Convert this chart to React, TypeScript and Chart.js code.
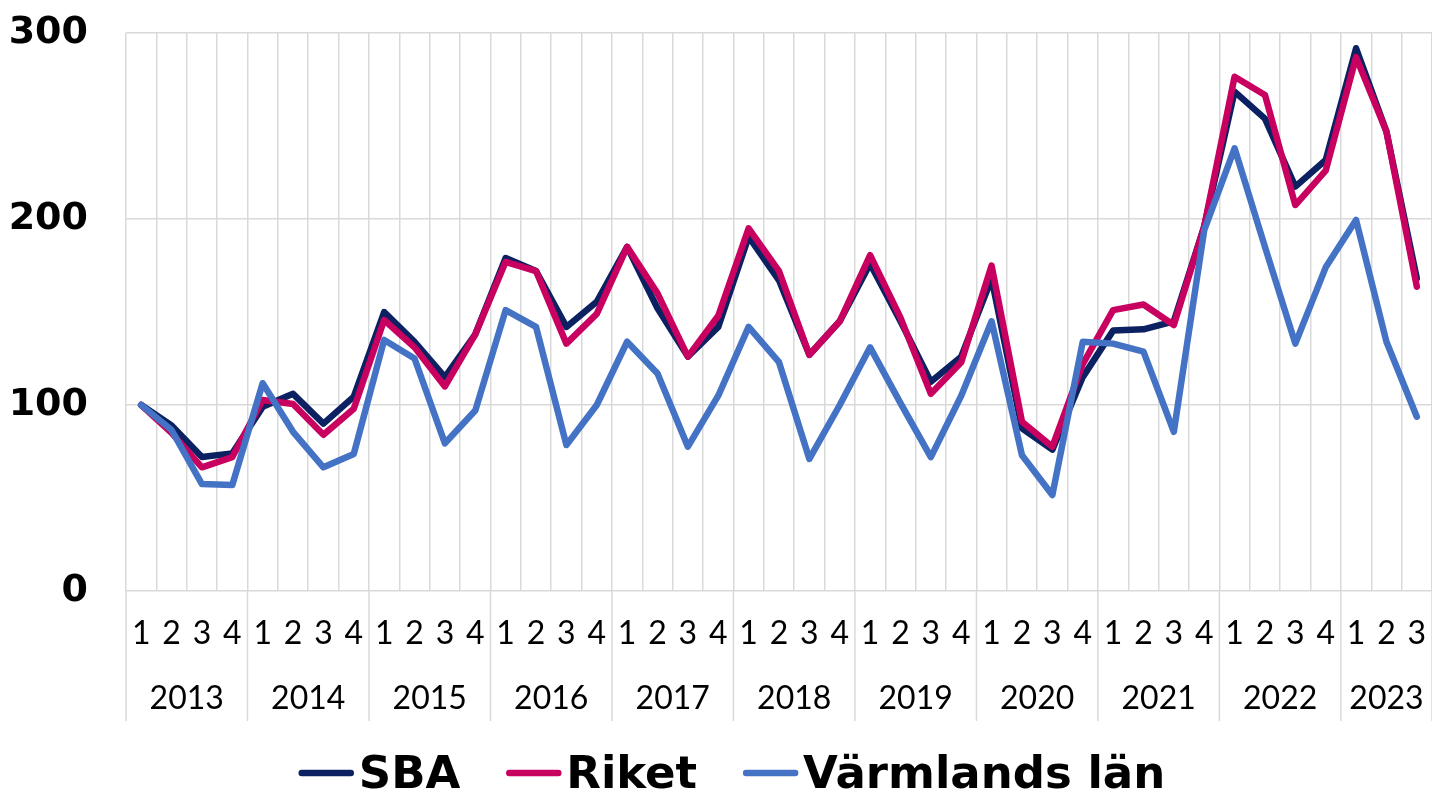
import React, { useEffect, useRef } from 'react';
import { Chart, registerables } from 'chart.js';

Chart.register(...registerables);

// ---- data ----
const years = ['2013', '2014', '2015', '2016', '2017', '2018', '2019', '2020', '2021', '2022', '2023'];
const quartersPerYear = [4, 4, 4, 4, 4, 4, 4, 4, 4, 4, 3];
const quarterLabels = [
  '1', '2', '3', '4', '1', '2', '3', '4', '1', '2', '3', '4', '1', '2', '3', '4',
  '1', '2', '3', '4', '1', '2', '3', '4', '1', '2', '3', '4', '1', '2', '3', '4',
  '1', '2', '3', '4', '1', '2', '3', '4', '1', '2', '3',
];

const sba = [
  100, 89, 72, 74,
  99, 106, 90, 104.5,
  150, 134, 115, 138,
  179, 172, 142, 155.5,
  185, 152, 126, 142,
  190.5, 167, 127, 145,
  176, 145, 112.5, 126,
  168, 87.5, 76, 115,
  140, 140.7, 145, 196,
  268.5, 254, 217.4, 231.7,
  291.8, 247, 168,
];

const riket = [
  100, 85, 66.5, 72,
  102.7, 100.5, 84, 98,
  145.7, 131, 110, 138,
  177, 172, 133, 149,
  185, 160, 126, 148,
  195, 172, 127, 145,
  180.6, 147, 106, 123,
  175, 91, 77.6, 122,
  151, 154, 143, 196,
  276.5, 266.7, 207.5, 226,
  287, 247, 163.6,
];

const varmland = [
  100, 86.5, 57.5, 57,
  111.7, 85.6, 66.5, 73.7,
  135, 125, 79.4, 97,
  151, 142, 78.5, 100,
  134, 117, 77.6, 105,
  142, 123, 71, 100,
  131, 101, 72, 105,
  145, 73, 51.6, 134,
  133, 128.7, 85.6, 194,
  238, 185, 133, 174,
  199.5, 134, 93.7,
];

const seriesNames = ['SBA', 'Riket', 'Värmlands län'];
const seriesColors = ['#0B2161', '#C8005F', '#4472C4'];
const yMin = 0;
const yMax = 300;
const yStep = 100;

// ---- styles ----
const GRID = '#d9d9d9';
const W = 1432;
const H = 794;

const yearAxisPlugin = {
  id: 'yearAxis',
  afterDraw(chart: any) {
    const x = chart.scales.x;
    const area = chart.chartArea;
    const ctx = chart.ctx;
    const half = (x.getPixelForValue(1) - x.getPixelForValue(0)) / 2;
    ctx.save();
    ctx.strokeStyle = GRID;
    ctx.lineWidth = 1.5;
    ctx.fillStyle = '#000';
    ctx.font = '32px Lato';
    ctx.textAlign = 'center';
    ctx.textBaseline = 'middle';
    let start = 0;
    let right = 0;
    years.forEach((yr, k) => {
      const n = quartersPerYear[k];
      const left = x.getPixelForValue(start) - half;
      right = x.getPixelForValue(start + n - 1) + half;
      ctx.beginPath();
      ctx.moveTo(left, area.bottom);
      ctx.lineTo(left, area.bottom + 130);
      ctx.stroke();
      ctx.fillText(yr, (left + right) / 2, area.bottom + 108);
      start += n;
    });
    ctx.beginPath();
    ctx.moveTo(right, area.bottom);
    ctx.lineTo(right, area.bottom + 130);
    ctx.stroke();
    ctx.restore();
  },
};

const legendPlugin = {
  id: 'customLegend',
  afterDraw(chart: any) {
    const ctx = chart.ctx;
    const ds = chart.data.datasets;
    const swatch = 55;
    const gapText = 5;
    const gapItem = 46;
    ctx.save();
    ctx.font = 'bold 45px "DejaVu Sans"';
    const widths = ds.map((d: any) => ctx.measureText(d.label).width);
    const total = widths.reduce((a: number, w: number) => a + swatch + gapText + w, 0) + gapItem * (ds.length - 1);
    let xPos = 732 - total / 2;
    const baseY = 788;
    const lineY = 773;
    ds.forEach((d: any, i: number) => {
      ctx.strokeStyle = d.borderColor;
      ctx.lineWidth = 6.5;
      ctx.lineCap = 'round';
      ctx.beginPath();
      ctx.moveTo(xPos + 3, lineY);
      ctx.lineTo(xPos + swatch - 3, lineY);
      ctx.stroke();
      ctx.fillStyle = '#000';
      ctx.textAlign = 'left';
      ctx.textBaseline = 'alphabetic';
      ctx.fillText(d.label, xPos + swatch + gapText, baseY);
      xPos += swatch + gapText + widths[i] + gapItem;
    });
    ctx.restore();
  },
};

export default function App() {
  const ref = useRef<HTMLCanvasElement | null>(null);

  useEffect(() => {
    document.body.style.margin = '0';
    const canvas = ref.current;
    if (!canvas) return;
    const seriesData = [sba, riket, varmland];
    const chart = new Chart(canvas, {
      type: 'line',
      data: {
        labels: quarterLabels,
        datasets: seriesData.map((d, i) => ({
          label: seriesNames[i],
          data: d,
          borderColor: seriesColors[i],
          backgroundColor: seriesColors[i],
          borderWidth: 6.5,
          pointRadius: 0,
          tension: 0,
          borderCapStyle: 'round',
          borderJoinStyle: 'round',
          fill: false,
          order: 3 - i,
        })),
      },
      options: {
        animation: false,
        responsive: false,
        devicePixelRatio: 1,
        layout: { padding: { left: 0, right: 0, top: 33, bottom: 63 } },
        plugins: {
          legend: { display: false },
          tooltip: { enabled: false },
        },
        scales: {
          x: {
            offset: true,
            grid: { offset: true, color: GRID, lineWidth: 1.5, drawTicks: false },
            border: { display: false },
            ticks: {
              autoSkip: false,
              maxRotation: 0,
              color: '#000',
              font: { family: 'Lato', size: 32 },
              padding: 23,
            },
            afterFit(scale: any) {
              scale.height = 140;
              scale.paddingLeft = 0;
              scale.paddingRight = 0;
            },
          },
          y: {
            min: yMin,
            max: yMax,
            grid: { color: GRID, lineWidth: 1.5, drawTicks: false },
            border: { display: false },
            ticks: {
              stepSize: yStep,
              color: '#000',
              font: { family: 'DejaVu Sans', size: 38, weight: 'bold' },
              padding: 38,
            },
            afterFit(scale: any) {
              scale.width = 126;
              scale.paddingTop = 0;
              scale.paddingBottom = 0;
            },
          },
        },
      },
      plugins: [yearAxisPlugin, legendPlugin],
    } as any);
    return () => chart.destroy();
  }, []);

  return (
    <div style={{ width: W, height: H }}>
      <canvas ref={ref} width={W} height={H} style={{ display: 'block' }} />
    </div>
  );
}
